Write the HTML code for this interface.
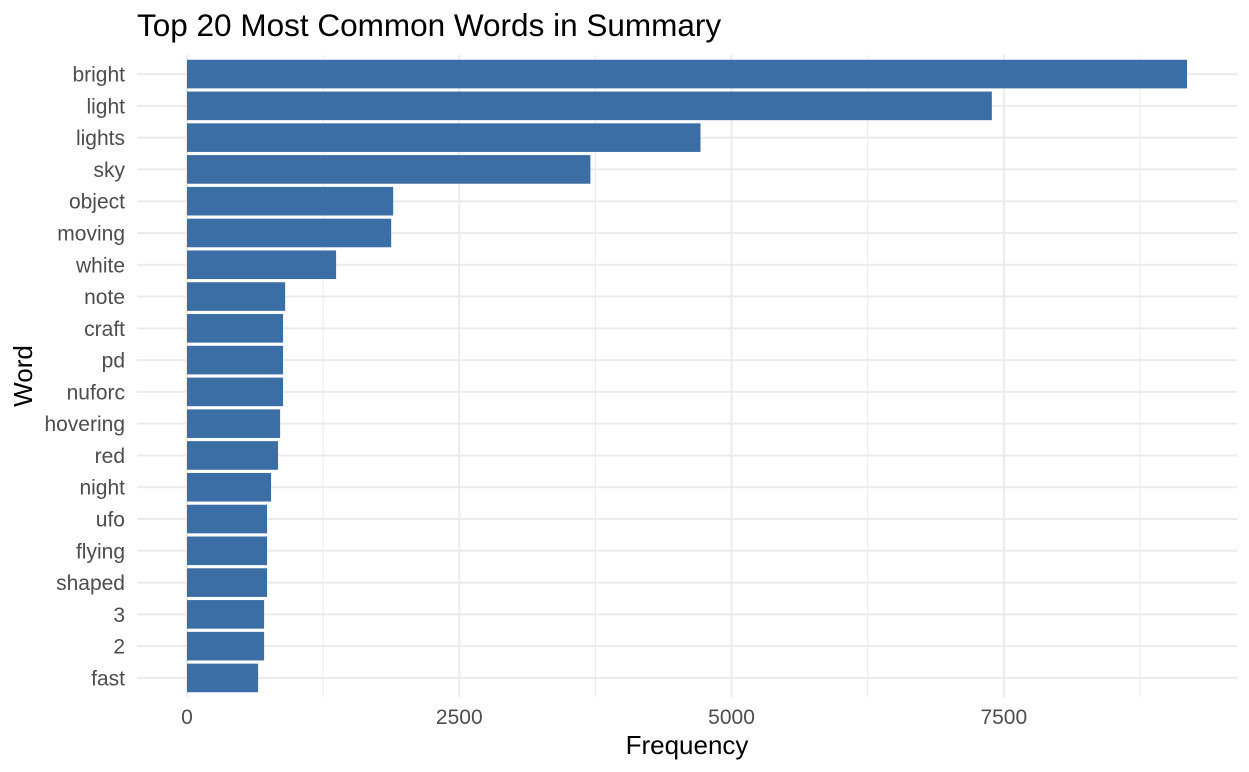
<!DOCTYPE html>
<html><head><meta charset="utf-8"><style>
html,body{margin:0;padding:0;background:#fff;}
svg{display:block;font-family:"Liberation Sans",Arial,sans-serif;}
</style></head><body>
<svg id="chart" width="1249" height="772">
<text x="137" y="36" font-size="31.5" fill="#000">Top 20 Most Common Words in Summary</text>
<g id="grid"></g><g id="bars"></g><g id="ylabels"></g><g id="xlabels"></g>
<text x="687" y="754" font-size="26" text-anchor="middle" fill="#000">Frequency</text>
<text transform="translate(32,376) rotate(-90)" font-size="26" text-anchor="middle" fill="#000">Word</text>
</svg>
<script>
const categories=["bright","light","lights","sky","object","moving","white","note","craft","pd","nuforc","hovering","red","night","ufo","flying","shaped","3","2","fast"];
const values=[9182,7390,4715,3704,1893,1875,1369,901,882,882,882,855,836,772,735,735,735,708,708,653];
const xTicks=[0,2500,5000,7500];
const xMinor=[1250,3750,6250,8750];
const NS="http://www.w3.org/2000/svg";
const maxV=Math.max(...values);
const lo=-maxV*0.05, hi=maxV*1.05;
const L=137,R=1237,T=55,B=697;
const x=v=>L+(v-lo)/(hi-lo)*(R-L);
const step=(B-T)/(categories.length+0.2);
const y=i=>T+step*(0.6+i);
function mk(t,a,p){const e=document.createElementNS(NS,t);for(const k in a)e.setAttribute(k,a[k]);p.appendChild(e);return e;}
const g=document.getElementById('grid');
xMinor.forEach(v=>{const l=mk('line',{x1:x(v),x2:x(v),y1:T,y2:B,stroke:'#ebebeb','stroke-width':1},g);

});
xTicks.forEach(v=>{const l=mk('line',{x1:x(v),x2:x(v),y1:T,y2:B,stroke:'#ebebeb','stroke-width':2},g);


const t=mk('text',{x:x(v),y:724,'font-size':21,'text-anchor':'middle',fill:'#4d4d4d'},document.getElementById('xlabels'));
t.textContent=v;

});
categories.forEach((c,i)=>{const l=mk('line',{x1:L,x2:R,y1:y(i),y2:y(i),stroke:'#ebebeb','stroke-width':2},g);


const h=step*0.9;
const b=mk('rect',{x:x(0),y:y(i)-h/2,width:x(values[i])-x(0),height:h,fill:'#3a6ea5'},document.getElementById('bars'));


const t=mk('text',{x:125,y:y(i)+7.5,'font-size':21,'text-anchor':'end',fill:'#4d4d4d'},document.getElementById('ylabels'));
t.textContent=c;

});
</script>
</body></html>
